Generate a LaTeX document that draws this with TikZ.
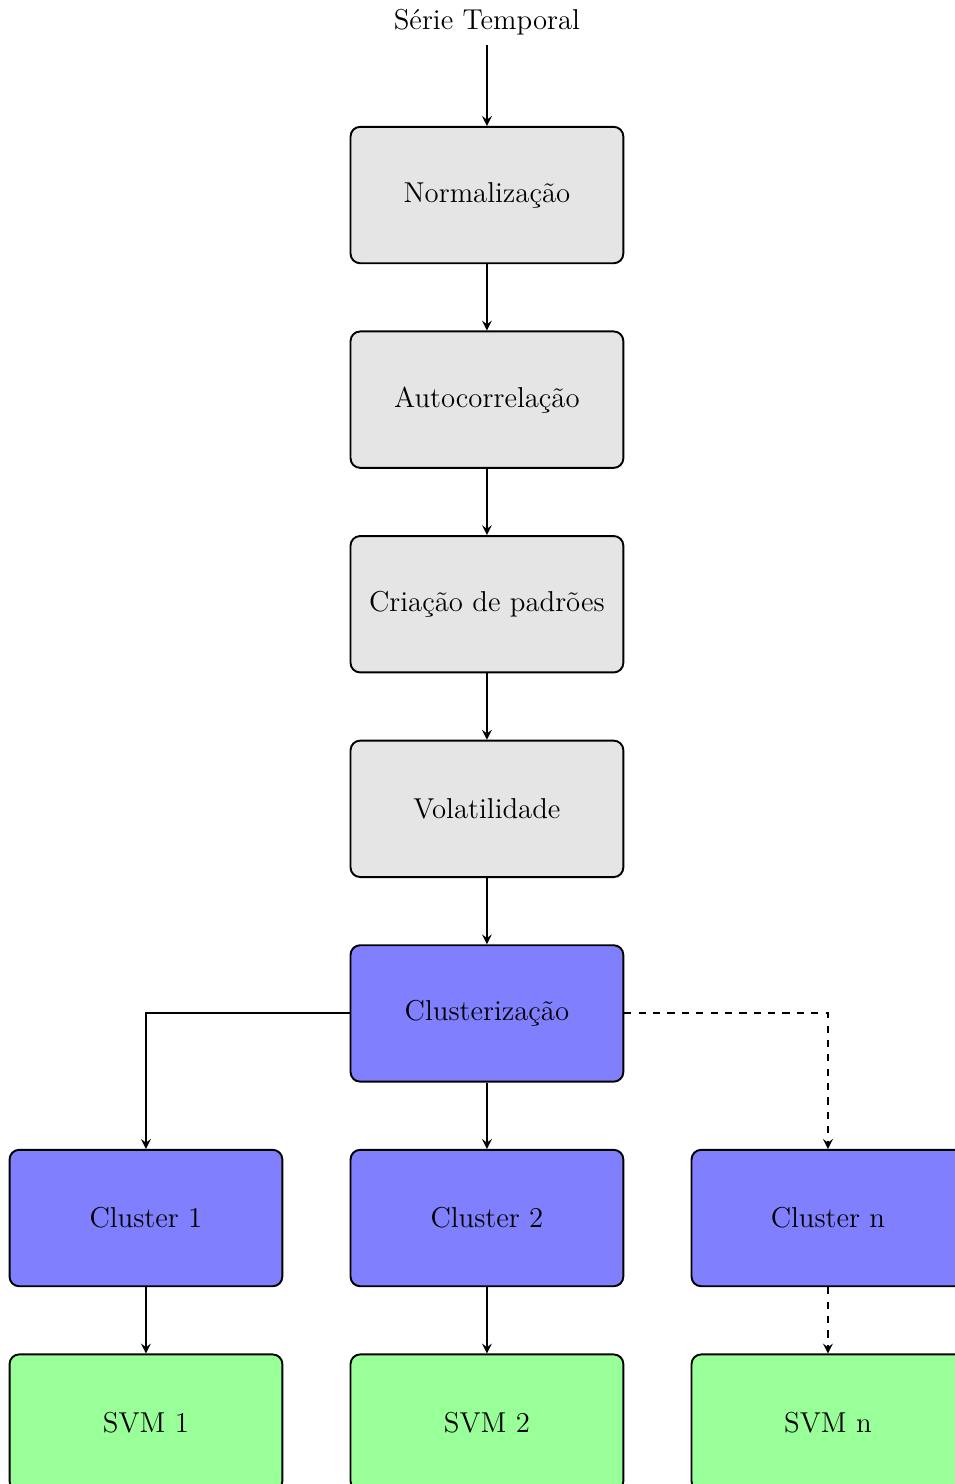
\documentclass[tikz,border=0pt,12pt]{standalone}
\usepackage[utf8]{inputenc}
\usetikzlibrary{positioning}

\begin{document}
\begin{tikzpicture}[etapa/.style = {draw, thick, rounded corners, minimum width=4cm, minimum height=2cm, fill=black!10},
clus/.style = {etapa, fill=blue!50},
svm/.style = {etapa, fill=green!40},
seta/.style = {thick, -stealth},
on grid, node distance=3cm and 5cm]
\useasboundingbox (-7.14,2.86) rectangle (6.86,-18.9);
\node[etapa] (norm) at (0,0) {Normalização};
\node (serie) [above=2.54cm of norm] {Série Temporal};
\node[etapa] (auto) [below=of norm] {Autocorrelação};
\node[etapa] (padr) [below=of auto] {Criação de padrões};
\node[etapa] (vol) [below=of padr] {Volatilidade};
\node[clus] (clu) [below=of vol] {Clusterização};
\node[clus] (c2) [below=of clu] {Cluster 2};
\node[clus] (c1) [left=of c2] {Cluster 1};
\node[clus] (cn) [right=of c2] {Cluster n};
\node[svm] (s1) [below=of c1] {SVM 1};
\node[svm] (s2) [below=of c2] {SVM 2};
\node[svm] (sn) [below=of cn] {SVM n};
\draw[seta] (serie) -- (norm);
\draw[seta] (norm) -- (auto);
\draw[seta] (auto) -- (padr);
\draw[seta] (padr) -- (vol);
\draw[seta] (vol) -- (clu);
\draw[seta] (clu.west) -| (c1.north);
\draw[seta] (clu) -- (c2);
\draw[seta, dashed] (clu.east) -| (cn.north);
\draw[seta] (c1) -- (s1);
\draw[seta] (c2) -- (s2);
\draw[seta, dashed] (cn) -- (sn);
\end{tikzpicture}
\end{document}
